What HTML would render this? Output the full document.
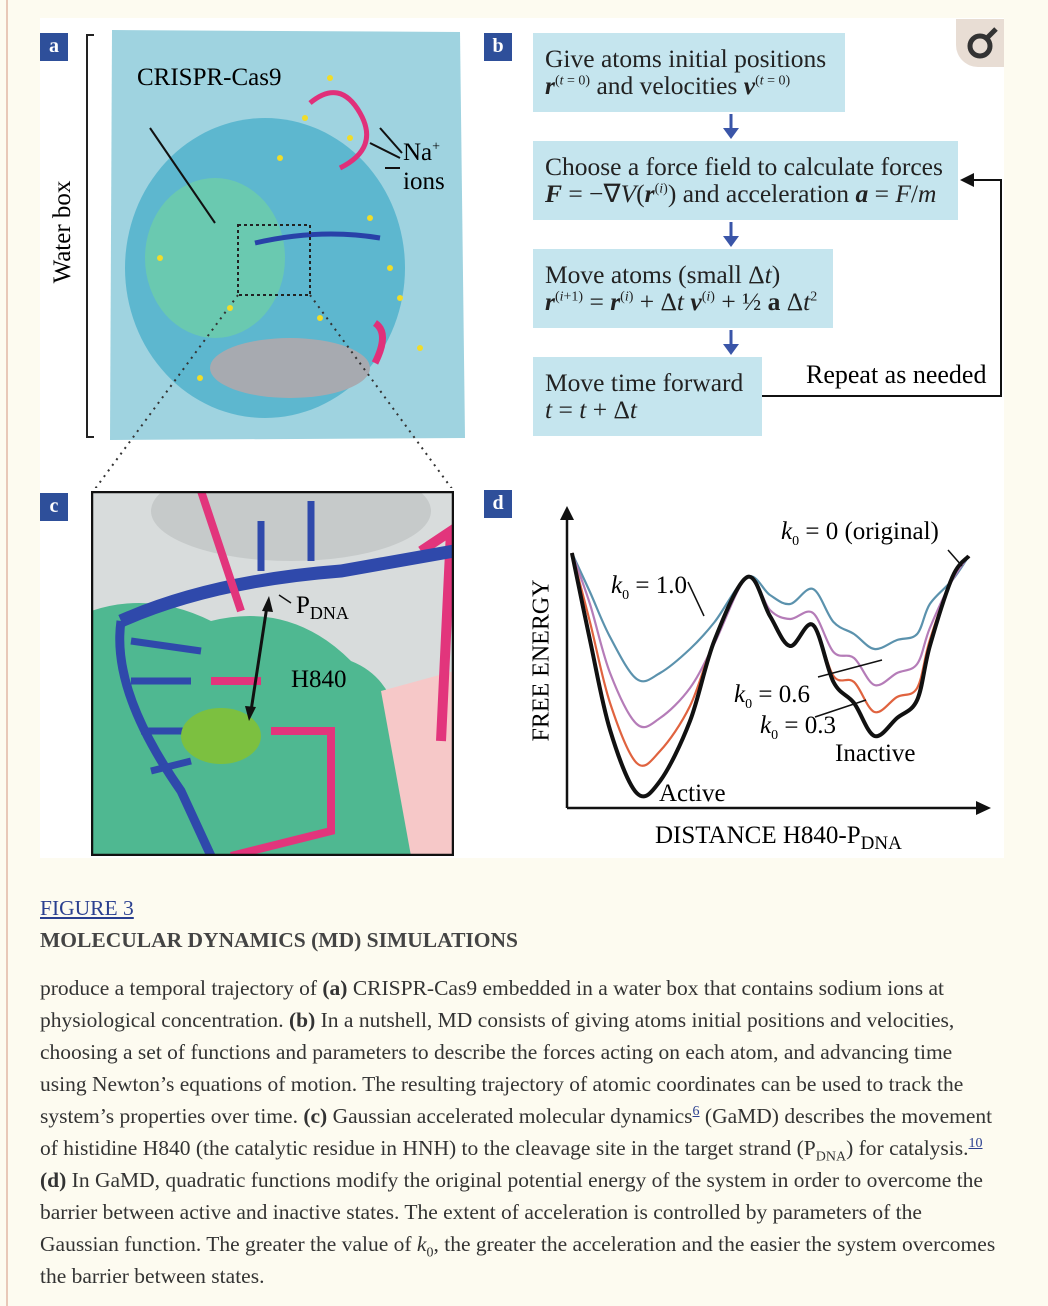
<!DOCTYPE html>
<html><head><meta charset="utf-8"><style>
body{margin:0;width:1048px;height:1306px;background:#fdfbf0;font-family:"Liberation Serif",serif;position:relative;overflow:hidden}
.abs{position:absolute;white-space:nowrap}
.lab{position:absolute;width:28px;height:28px;background:#2e4f9a;color:#fff;font-weight:bold;font-size:20px;text-align:center;line-height:26px}
.box{position:absolute;background:#c5e5ee;color:#222;font-size:25.5px;line-height:27px;padding:12px 0 0 12px;box-sizing:border-box;white-space:nowrap}
.cap{position:absolute;left:40px;width:964px;font-size:21.5px;line-height:32px;color:#333}
sup,sub{font-size:14px;line-height:0}
</style></head><body>
<div class="abs" style="left:6px;top:0;width:2px;height:1306px;background:#e8c8b8"></div>
<div class="abs" style="left:40px;top:18px;width:964px;height:840px;background:#fff"></div>

<!-- panel a -->
<svg class="abs" style="left:40px;top:18px" width="440" height="470">
<path d="M72,12 L420,14 L425,420 L70,422 Z" fill="#9fd3e0"/>
<ellipse cx="225" cy="250" rx="140" ry="150" fill="#5db7cf"/>
<ellipse cx="175" cy="240" rx="70" ry="80" fill="#6ac9b0"/>
<ellipse cx="250" cy="350" rx="80" ry="30" fill="#a7aab0"/>
<path d="M270,85 Q300,60 320,95 T300,150" stroke="#e0307a" stroke-width="5" fill="none"/>
<path d="M215,225 Q280,210 340,220" stroke="#2841a8" stroke-width="5" fill="none"/>
<path d="M335,305 q15,10 0,40" stroke="#e0307a" stroke-width="7" fill="none"/>
<rect x="198" y="207" width="72" height="70" fill="none" stroke="#222" stroke-width="2" stroke-dasharray="3,3"/>
<path d="M198,277 L52,475 M270,277 L415,475" stroke="#333" stroke-width="2" stroke-dasharray="2,5"/>
<path d="M54,17 h-7 v402 h7" stroke="#222" stroke-width="2" fill="none"/>
<path d="M110,110 L175,205 M340,110 L362,135 M330,125 L360,140 M345,150 L360,150" stroke="#111" stroke-width="2"/>
<g fill="#f0dc2a"><circle cx="290" cy="60" r="3"/><circle cx="265" cy="100" r="3"/><circle cx="310" cy="120" r="3"/><circle cx="240" cy="140" r="3"/><circle cx="350" cy="250" r="3"/><circle cx="360" cy="280" r="3"/><circle cx="190" cy="290" r="3"/><circle cx="120" cy="240" r="3"/><circle cx="380" cy="330" r="3"/><circle cx="160" cy="360" r="3"/><circle cx="330" cy="200" r="3"/><circle cx="280" cy="300" r="3"/></g>
</svg>
<div class="abs" style="left:137px;top:64px;font-size:25px">CRISPR-Cas9</div>
<div class="abs" style="left:403px;top:138px;font-size:25px;line-height:29px">Na<sup>+</sup><br>ions</div>
<div class="abs" style="left:3px;top:218px;font-size:25px;transform:rotate(-90deg);transform-origin:center;width:120px;text-align:center">Water box</div>
<div class="lab" style="left:40px;top:33px">a</div>
<div class="lab" style="left:484px;top:33px">b</div>
<div class="lab" style="left:40px;top:493px">c</div>
<div class="lab" style="left:484px;top:490px">d</div>

<!-- panel c -->
<svg class="abs" style="left:91px;top:491px" width="363" height="365">
<rect width="363" height="365" fill="#d8dcdc"/>
<ellipse cx="200" cy="20" rx="140" ry="50" fill="#c6caca"/>
<path d="M0,120 Q60,100 120,130 Q200,110 260,170 Q310,190 310,260 L363,300 L363,365 L0,365 Z" fill="#4fb891"/>
<path d="M290,200 L363,180 L363,365 L320,365 Z" fill="#f6c8c8"/>
<path d="M330,60 L360,40 L350,250" stroke="#e2357c" stroke-width="10" fill="none"/>
<path d="M30,130 Q120,90 250,80 L363,60" stroke="#2f49ab" stroke-width="13" fill="none"/>
<path d="M30,130 Q20,200 90,300 L120,365" stroke="#2f49ab" stroke-width="9" fill="none"/>
<path d="M110,0 L150,120 M120,190 L170,190 M180,240 L240,240 L240,340 L140,365" stroke="#e2357c" stroke-width="8" fill="none"/>
<path d="M40,150 L110,160 M40,190 L100,190 M50,240 L100,240 M60,280 L100,270 M170,80 L170,30 M220,70 L220,10" stroke="#2f49ab" stroke-width="7"/>
<ellipse cx="130" cy="245" rx="40" ry="28" fill="#7cc040"/>
<line x1="176" y1="115" x2="160" y2="220" stroke="#111" stroke-width="3"/>
<path d="M178,105 l-7,15 l11,1 Z M158,230 l-4,-15 l11,1 Z" fill="#111"/>
<line x1="188" y1="104" x2="200" y2="112" stroke="#111" stroke-width="1.5"/>
<rect x="1" y="1" width="361" height="363" fill="none" stroke="#111" stroke-width="2.5"/>
</svg>
<div class="abs" style="left:296px;top:592px;font-size:25px">P<sub style="font-size:18px">DNA</sub></div>
<div class="abs" style="left:291px;top:666px;font-size:25px">H840</div>

<!-- panel b -->
<div class="box" style="left:533px;top:33px;width:312px;height:79px">Give atoms initial positions<br><i><b>r</b></i><sup>(<i>t</i> = 0)</sup> and velocities <i><b>v</b></i><sup>(<i>t</i> = 0)</sup></div>
<div class="box" style="left:533px;top:141px;width:425px;height:79px">Choose a force field to calculate forces<br><i><b>F</b></i> = −∇<i>V</i>(<i><b>r</b></i><sup>(<i>i</i>)</sup>) and acceleration <i><b>a</b></i> = <i>F</i>/<i>m</i></div>
<div class="box" style="left:533px;top:249px;width:300px;height:79px">Move atoms (small Δ<i>t</i>)<br><i><b>r</b></i><sup>(<i>i</i>+1)</sup> = <i><b>r</b></i><sup>(<i>i</i>)</sup> + Δ<i>t</i> <i><b>v</b></i><sup>(<i>i</i>)</sup> + ½ <b>a</b> Δ<i>t</i><sup>2</sup></div>
<div class="box" style="left:533px;top:357px;width:229px;height:79px">Move time forward<br><i>t</i> = <i>t</i> + Δ<i>t</i></div>
<svg class="abs" style="left:700px;top:100px" width="310" height="340">
<g stroke="#3a55a8" stroke-width="3"><line x1="31" y1="14" x2="31" y2="30"/><line x1="31" y1="122" x2="31" y2="138"/><line x1="31" y1="230" x2="31" y2="246"/></g>
<g fill="#3a55a8"><path d="M23,28 h16 l-8,11Z"/><path d="M23,136 h16 l-8,11Z"/><path d="M23,244 h16 l-8,11Z"/></g>
<path d="M62,296 H301 V80 H270" stroke="#111" stroke-width="2" fill="none"/>
<path d="M260,80 l14,-7 v14Z" fill="#111"/>
</svg>
<div class="abs" style="left:806px;top:360px;font-size:26px">Repeat as needed</div>
<div class="abs" style="left:956px;top:19px;width:48px;height:48px;background:#e8ddd4;border-radius:0 0 0 22px"><svg width="48" height="48"><circle cx="24" cy="27" r="10" stroke="#333" stroke-width="5" fill="none"/><line x1="31" y1="19" x2="40" y2="10" stroke="#333" stroke-width="5"/></svg></div>

<!-- panel d -->
<svg class="abs" style="left:0;top:0" width="1048" height="870" id="chart">
<path d="M567,808 V518 M567,808 H980" stroke="#111" stroke-width="2.5" fill="none"/>
<path d="M560,520 l7,-14 l7,14Z" fill="#111"/>
<path d="M976,801 l15,7 l-15,7Z" fill="#111"/>
<g id="curves"></g>
<path d="M948,550 L962,566 M688,582 L704,616 M818,677 L882,660 M815,717 L866,700" stroke="#111" stroke-width="1.5"/>
</svg>
<div class="abs" style="left:452px;top:647px;width:180px;text-align:center;font-size:24px;transform:rotate(-90deg)">FREE ENERGY</div>
<div class="abs" style="left:655px;top:822px;font-size:25px">DISTANCE H840-P<sub style="font-size:19px">DNA</sub></div>
<div class="abs" style="left:781px;top:518px;font-size:25px"><i>k</i><sub>0</sub> = 0 (original)</div>
<div class="abs" style="left:611px;top:572px;font-size:25px"><i>k</i><sub>0</sub> = 1.0</div>
<div class="abs" style="left:734px;top:681px;font-size:25px"><i>k</i><sub>0</sub> = 0.6</div>
<div class="abs" style="left:760px;top:712px;font-size:25px"><i>k</i><sub>0</sub> = 0.3</div>
<div class="abs" style="left:835px;top:740px;font-size:25px">Inactive</div>
<div class="abs" style="left:659px;top:780px;font-size:25px">Active</div>

<!-- caption -->
<div class="cap" style="top:892px;color:#2a3f8f;text-decoration:underline">FIGURE 3</div>
<div class="cap" style="top:924px;font-weight:bold;color:#444">MOLECULAR DYNAMICS (MD) SIMULATIONS</div>
<div class="cap" style="top:972px">produce a temporal trajectory of <b>(a)</b> CRISPR-Cas9 embedded in a water box that contains sodium ions at physiological concentration. <b>(b)</b> In a nutshell, MD consists of giving atoms initial positions and velocities, choosing a set of functions and parameters to describe the forces acting on each atom, and advancing time using Newton’s equations of motion. The resulting trajectory of atomic coordinates can be used to track the system’s properties over time. <b>(c)</b> Gaussian accelerated molecular dynamics<sup style="color:#2a3f8f;text-decoration:underline">6</sup> (GaMD) describes the movement of histidine H840 (the catalytic residue in HNH) to the cleavage site in the target strand (P<sub>DNA</sub>) for catalysis.<sup style="color:#2a3f8f;text-decoration:underline">10</sup> <b>(d)</b> In GaMD, quadratic functions modify the original potential energy of the system in order to overcome the barrier between active and inactive states. The extent of acceleration is controlled by parameters of the Gaussian function. The greater the value of <i>k</i><sub>0</sub>, the greater the acceleration and the easier the system overcomes the barrier between states.</div>

<script>
const distance = [1.2,5.6,10.5,17,22.7,30,36,44,49.5,54.4,60,65,70,75,80.5,85.4,88.5,94,98];
const energyK10 = [85,72,57,43,45,53,62,77,71,68,73,62,58,53,56,58,68,76,84];
const energyK06 = [85,68,45,28,30,40,55,77,66,63,65,52,50,41,45,48,60,76,84];
const energyK03 = [85,62,35,15,19,34,56,77,64,54,61,44,42,32,37,40,56,77,84];
const energyK00 = [85,56,26,5,9,29,56,77,64,54,61,42,35,24,30,36,54,77,84];
const seriesNames = ['k0-1.0','k0-0.6','k0-0.3','k0-0-original'];
const seriesColors = ['#5b92ad','#b57cb8','#e0633f','#111'];
function xScale(d){return 567+d*4.1;}
function yScale(e){return 808-e*3;}
function smoothPath(xs,ys){
  const p=xs.map((x,i)=>[xScale(x),yScale(ys[i])]);
  let s='M'+p[0][0]+','+p[0][1];
  for(let i=0;i<p.length-1;i++){
    const p0=p[i-1]||p[i],p1=p[i],p2=p[i+1],p3=p[i+2]||p2;
    const c1=[p1[0]+(p2[0]-p0[0])/6,p1[1]+(p2[1]-p0[1])/6];
    const c2=[p2[0]-(p3[0]-p1[0])/6,p2[1]-(p3[1]-p1[1])/6];
    s+=' C'+c1+' '+c2+' '+p2;
  }
  return s;
}
const g=document.getElementById('curves');
[energyK10,energyK06,energyK03,energyK00].forEach((ys,i)=>{
  const el=document.createElementNS('http://www.w3.org/2000/svg','path');
  el.setAttribute('d',smoothPath(distance,ys));
  el.setAttribute('fill','none');
  el.setAttribute('stroke',seriesColors[i]);
  el.setAttribute('stroke-width',i===3?4:2.2);
  
  
  g.appendChild(el);
});
</script>
</body></html>
